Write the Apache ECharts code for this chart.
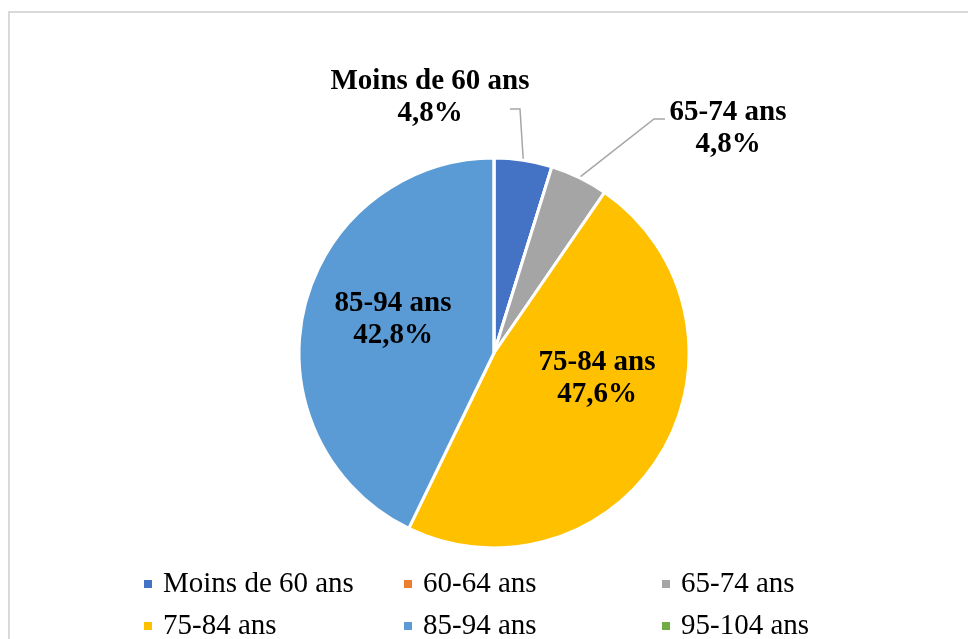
<!DOCTYPE html>
<html>
<head>
<meta charset="utf-8">
<script src="https://cdn.jsdelivr.net/npm/echarts@6/dist/echarts.min.js"></script>
<style>
  html, body { margin: 0; padding: 0; background: #fff; }
  #chart { width: 968px; height: 639px; }
</style>
</head>
<body>
<div id="chart"></div>
<script>
  // tranches d'age et parts (%)
  var categories = ['Moins de 60 ans', '60-64 ans', '65-74 ans', '75-84 ans', '85-94 ans', '95-104 ans'];
  var shares = [4.8, 0, 4.8, 47.6, 42.8, 0];
  var colors = ['#4472C4', '#ED7D31', '#A5A5A5', '#FFC000', '#5B9BD5', '#70AD47'];

  // legend grid: 3 columns, 2 rows (row-major, same order as categories)
  var legendLeft = [142, 402, 660];
  var legendTop = [569, 611];

  // label placement: centre of label, and for outside labels the elbow + end of the leader line
  var labelPlace = {
    0: { x: 430, y: 98, elbow: [520, 109], end: [510, 109] },
    2: { x: 728, y: 129, elbow: [654, 119], end: [665, 119] },
    3: { x: 597, y: 379 },
    4: { x: 393, y: 320 }
  };

  var chart = echarts.init(document.getElementById('chart'));

  var pieData = categories.map(function (name, i) {
    var item = { name: name, value: shares[i], itemStyle: { color: colors[i] } };
    if (shares[i] === 0) {
      item.label = { show: false };
      item.labelLine = { show: false };
    } else if (i === 3 || i === 4) {
      item.label = { position: 'inside' };
      item.labelLine = { show: false };
    }
    return item;
  });

  // one legend per cell so the columns line up like the original
  var legends = categories.map(function (name, i) {
    return {
      data: [name],
      orient: 'horizontal',
      left: legendLeft[i % 3],
      top: legendTop[Math.floor(i / 3)],
      padding: 0,
      itemWidth: 10,
      itemHeight: 10,
      icon: 'rect',
      selectedMode: false,
      textStyle: {
        fontFamily: 'Liberation Serif',
        fontSize: 29,
        lineHeight: 30,
        color: '#000',
        padding: [0, 0, 0, 5]
      }
    };
  });

  var option = {
    backgroundColor: '#fff',
    animation: false,
    color: colors,
    graphic: [{
      type: 'rect',
      shape: { x: 9, y: 12, width: 1000, height: 1000 },
      style: { fill: 'none', stroke: '#d9d9d9', lineWidth: 2 },
      silent: true
    }],
    legend: legends,
    series: [{
      type: 'pie',
      center: [494, 353],
      radius: 195,
      startAngle: 90,
      clockwise: true,
      itemStyle: { borderColor: '#fff', borderWidth: 3 },
      label: {
        show: true,
        position: 'outside',
        fontFamily: 'Liberation Serif',
        fontWeight: 'bold',
        fontSize: 29,
        lineHeight: 32,
        color: '#000',
        formatter: function (p) {
          return p.name + '\n' + p.value.toFixed(1).replace('.', ',') + '%';
        }
      },
      labelLine: {
        show: true,
        lineStyle: { color: '#a6a6a6', width: 1.5 }
      },
      labelLayout: function (params) {
        var pl = labelPlace[params.dataIndex];
        if (!pl) return {};
        var out = { x: pl.x, y: pl.y, align: 'center', verticalAlign: 'middle' };
        if (pl.elbow && params.labelLinePoints) {
          out.labelLinePoints = [params.labelLinePoints[0], pl.elbow, pl.end];
        }
        return out;
      },
      data: pieData
    }]
  };

  chart.setOption(option);
</script>
</body>
</html>
